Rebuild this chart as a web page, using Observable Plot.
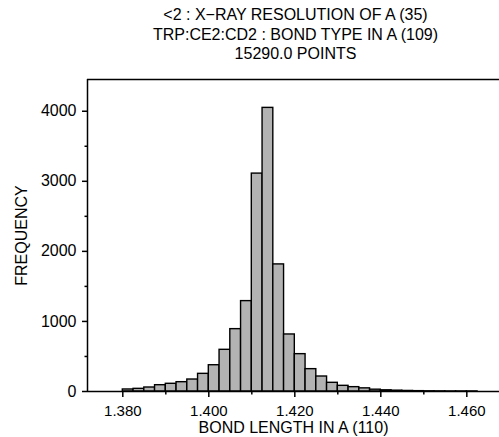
<!DOCTYPE html>
<html>
<head>
<meta charset="utf-8">
<script src="https://cdn.jsdelivr.net/npm/d3@7"></script>
<script src="https://cdn.jsdelivr.net/npm/@observablehq/plot@0.6"></script>
<style>
  html, body { margin: 0; padding: 0; background: #fff; }
  #wrap { width: 499px; height: 437px; overflow: hidden; font-family: "Liberation Sans", Arial, sans-serif; }
  #title { box-sizing: border-box; width: 499px; height: 64px; padding: 5px 0 0 92px; text-align: center; font-size: 16px; line-height: 19.5px; color: #000; }
  svg { display: block; }
</style>
</head>
<body>
<div id="wrap">
  <div id="title"></div>
  <div id="chart"></div>
</div>
<script>
// ---- data ----
const titleLines = [
  "<2 : X\u2212RAY RESOLUTION OF A (35)",
  "TRP:CE2:CD2 : BOND TYPE IN A (109)",
  "15290.0 POINTS"
];
const binStart = [
  1.3800, 1.3825, 1.3850, 1.3875, 1.3900, 1.3925, 1.3950, 1.3975,
  1.4000, 1.4025, 1.4050, 1.4075, 1.4100, 1.4125, 1.4150, 1.4175,
  1.4200, 1.4225, 1.4250, 1.4275, 1.4300, 1.4325, 1.4350, 1.4375,
  1.4400, 1.4425, 1.4450, 1.4475, 1.4500, 1.4525, 1.4550, 1.4575, 1.4600
];
const binEnd = [
  1.3825, 1.3850, 1.3875, 1.3900, 1.3925, 1.3950, 1.3975, 1.4000,
  1.4025, 1.4050, 1.4075, 1.4100, 1.4125, 1.4150, 1.4175, 1.4200,
  1.4225, 1.4250, 1.4275, 1.4300, 1.4325, 1.4350, 1.4375, 1.4400,
  1.4425, 1.4450, 1.4475, 1.4500, 1.4525, 1.4550, 1.4575, 1.4600, 1.4625
];
const counts = [
  29, 38, 57, 90, 110, 133, 171, 252,
  375, 595, 890, 1290, 3110, 4048, 1814, 814,
  533, 319, 214, 124, 81, 62, 45, 26,
  17, 12, 8, 5, 3, 2, 1, 1, 1
];
const xMajorTicks = [1.380, 1.400, 1.420, 1.440, 1.460];
const xMinorTicks = [1.390, 1.410, 1.430, 1.450];
const yMajorTicks = [0, 1000, 2000, 3000, 4000];
const yMinorTicks = [500, 1500, 2500, 3500];
const xLabel = "BOND LENGTH IN A (110)";
const yLabel = "FREQUENCY";
const xDomain = [1.37179, 1.4676];
const yDomain = [0, 4453];

// ---- title ----
document.getElementById("title").innerHTML = titleLines
  .map(t => `<div>${t.replace(/</g, "&lt;")}</div>`).join("");

// ---- chart ----
const bins = binStart.map((x0, i) => ({x0, x1: binEnd[i], n: counts[i]}));
const font = "Liberation Sans, Arial, sans-serif";

const chart = Plot.plot({
  width: 499,
  height: 373,
  marginTop: 15,
  marginBottom: 46,
  marginLeft: 87,
  marginRight: 0,
  style: {fontFamily: font, fontSize: "16px", color: "#000", background: "#fff"},
  x: {domain: xDomain, axis: null},
  y: {domain: yDomain, axis: null},
  marks: [
    Plot.rectY(bins, {x1: "x0", x2: "x1", y: "n", fill: "#b3b3b3", stroke: "#000", strokeWidth: 1.4}),
    Plot.ruleY([yDomain[0]], {stroke: "#000", strokeWidth: 1.5}),
    Plot.ruleY([yDomain[1]], {stroke: "#000", strokeWidth: 1.5}),
    Plot.ruleX([xDomain[0]], {stroke: "#000", strokeWidth: 1.5}),
    Plot.axisX(xMajorTicks, {
      anchor: "bottom", tickSize: 6, tickPadding: 8, strokeWidth: 1.5,
      tickFormat: d3.format(".3f"), fontSize: 15, label: null
    }),
    Plot.axisX(xMinorTicks, {anchor: "bottom", tickSize: 3.6, strokeWidth: 1.5, tickFormat: () => "", label: null}),
    Plot.axisX([], {
      anchor: "bottom", tickSize: 0, fontSize: 16,
      label: xLabel, labelAnchor: "center", labelArrow: "none", labelOffset: 41
    }),
    Plot.axisY(yMajorTicks, {
      anchor: "left", tickSize: 5, tickPadding: 6, strokeWidth: 1.5,
      tickFormat: d3.format("d"), fontSize: 16,
      label: yLabel, labelAnchor: "center", labelArrow: "none", labelOffset: 72
    }),
    Plot.axisY(yMinorTicks, {anchor: "left", tickSize: 2.5, strokeWidth: 1.5, tickFormat: () => "", label: null})
  ]
});
document.getElementById("chart").appendChild(chart);
</script>
</body>
</html>
